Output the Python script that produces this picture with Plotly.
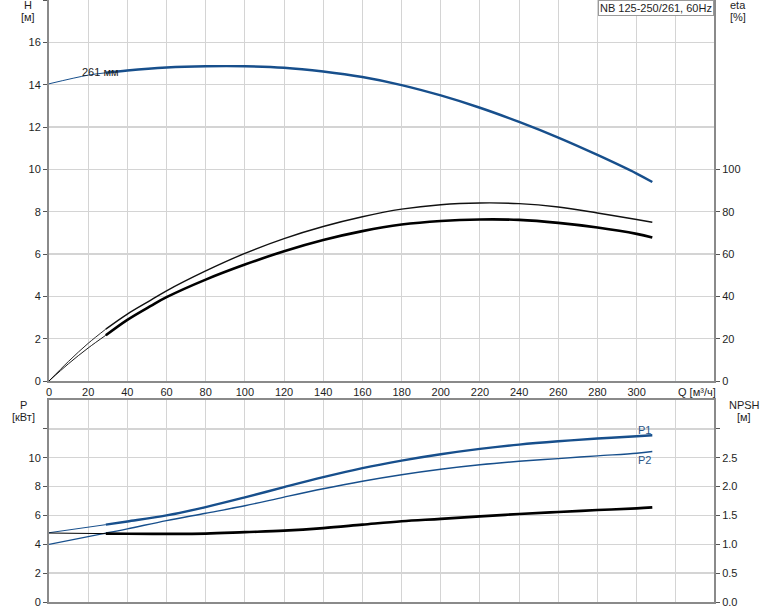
import plotly.graph_objects as go

# ---------------- data ----------------
Q_H = [0, 20, 29, 40, 60, 80, 100, 120, 140, 160, 180, 200, 220, 240, 260, 280, 300, 308]
H_vals = [14.04, 14.45, 14.56, 14.67, 14.81, 14.87, 14.87, 14.80, 14.62, 14.36, 13.98, 13.49, 12.91, 12.24, 11.50, 10.68, 9.80, 9.40]

Q_eta = [0, 10, 20, 29, 40, 52, 60, 80, 100, 120, 140, 160, 180, 200, 220, 240, 260, 280, 300, 308]
eta_pump = [0, 9.3, 17.8, 24.5, 31.6, 38.2, 42.6, 52.0, 60.3, 67.3, 73.0, 77.6, 81.2, 83.3, 84.1, 83.8, 82.2, 79.4, 76.3, 75.0]
eta_total = [0, 8.2, 15.6, 21.6, 28.9, 35.5, 39.6, 47.9, 55.0, 61.3, 66.6, 70.8, 73.9, 75.6, 76.3, 76.1, 74.7, 72.5, 69.5, 67.8]

Q_P = [0, 29, 40, 60, 80, 100, 120, 140, 160, 180, 200, 220, 240, 260, 280, 300, 308]
P1 = [4.80, 5.36, 5.58, 6.00, 6.58, 7.25, 7.96, 8.65, 9.28, 9.80, 10.24, 10.61, 10.91, 11.14, 11.33, 11.49, 11.56]
P2 = [4.00, 4.78, 5.07, 5.64, 6.15, 6.67, 7.27, 7.85, 8.37, 8.82, 9.20, 9.51, 9.75, 9.94, 10.13, 10.31, 10.43]
NPSH = [1.195, 1.185, 1.182, 1.180, 1.185, 1.21, 1.236, 1.28, 1.34, 1.40, 1.44, 1.484, 1.524, 1.559, 1.593, 1.622, 1.64]

Q_ticks = list(range(0, 321, 20))
Q_ticktext = [str(v) for v in range(0, 301, 20)] + [""]
H_ticks = list(range(0, 17, 2))
eta_ticks = list(range(0, 101, 20))
P_ticks = list(range(0, 13, 2))
P_ticktext = [str(v) for v in range(0, 11, 2)] + [""]
NPSH_ticks = [0, 0.5, 1.0, 1.5, 2.0, 2.5, 3.0]
NPSH_ticktext = ["0.0", "0.5", "1.0", "1.5", "2.0", "2.5", ""]

Q_SPLIT = 29  # start of thick (operating) range

# ---------------- layout helpers ----------------
W, HT = 774, 611
L, R, T, B = 49, 60, 0, 9
PW = W - L - R
PH = HT - T - B


def px(x):
    return (x - L) / PW


def py(y):
    return (HT - B - y) / PH


FONT = "Liberation Sans, Arial, sans-serif"
BLUE = "#174f8c"
GRID = "#d4d4d4"
AX = "#8a8a8a"
TXT = "#1e1e1e"


def split(xs, ys):
    lo_x = [x for x in xs if x <= Q_SPLIT]
    lo_y = [y for x, y in zip(xs, ys) if x <= Q_SPLIT]
    hi_x = [x for x in xs if x >= Q_SPLIT]
    hi_y = [y for x, y in zip(xs, ys) if x >= Q_SPLIT]
    return lo_x, lo_y, hi_x, hi_y


fig = go.Figure()


def add_curve(xs, ys, xa, ya, color, w_thin, w_thick):
    lx, ly, hx, hy = split(xs, ys)
    fig.add_trace(go.Scatter(x=lx, y=ly, xaxis=xa, yaxis=ya, mode="lines",
                             line=dict(color=color, width=w_thin, shape="spline"),
                             showlegend=False, hoverinfo="skip"))
    fig.add_trace(go.Scatter(x=hx, y=hy, xaxis=xa, yaxis=ya, mode="lines",
                             line=dict(color=color, width=w_thick, shape="spline"),
                             showlegend=False, hoverinfo="skip"))


# top: H and eta
add_curve(Q_eta, eta_pump, "x", "y2", "#111111", 0.9, 1.4)
add_curve(Q_eta, eta_total, "x", "y2", "#000000", 0.9, 2.6)
add_curve(Q_H, H_vals, "x", "y", BLUE, 1.0, 2.4)

# bottom: P1, P2, NPSH
add_curve(Q_P, NPSH, "x2", "y4", "#000000", 1.0, 2.6)
add_curve(Q_P, P2, "x2", "y3", BLUE, 1.3, 1.4)
add_curve(Q_P, P1, "x2", "y3", BLUE, 1.0, 2.4)

top_dom = [py(381), 1.0]
bot_dom = [0.0, py(400)]
XR = [0, 339.5]

tickfont = dict(family=FONT, size=11, color=TXT)

xcommon = dict(range=XR, tickmode="array", tickvals=Q_ticks, showgrid=True,
               gridcolor=GRID, gridwidth=1, zeroline=False, showline=True,
               linecolor=AX, linewidth=2, ticks="", tickfont=tickfont,
               automargin=False)

fig.update_layout(
    width=W, height=HT,
    margin=dict(l=L, r=R, t=T, b=B, pad=0, autoexpand=False),
    paper_bgcolor="white", plot_bgcolor="white",
    font=dict(family=FONT, size=11, color=TXT),
    showlegend=False,
    hovermode=False,
    xaxis=dict(domain=[0, 1], anchor="y", ticktext=Q_ticktext, **xcommon),
    yaxis=dict(domain=top_dom, anchor="x", range=[0, 18], tickmode="array",
               tickvals=H_ticks + [18], ticktext=[str(v) for v in H_ticks] + [""],
               showgrid=True, gridcolor=GRID, gridwidth=1.5, zeroline=False,
               showline=True, linecolor=AX, linewidth=2, ticks="outside",
               ticklen=4, tickcolor="#555", tickfont=tickfont, automargin=False),
    yaxis2=dict(overlaying="y", side="right", anchor="x", range=[0, 180],
                tickmode="array", tickvals=eta_ticks, showgrid=False,
                zeroline=False, showline=True, linecolor=AX, linewidth=2,
                ticks="outside", ticklen=4, tickcolor="#555", tickfont=tickfont,
                automargin=False),
    xaxis2=dict(domain=[0, 1], anchor="y3", showticklabels=False, mirror=True,
                ticktext=[""] * len(Q_ticks), **xcommon),
    yaxis3=dict(domain=bot_dom, anchor="x2", range=[0, 14], tickmode="array",
                tickvals=P_ticks, ticktext=P_ticktext, showgrid=True,
                gridcolor=GRID, gridwidth=1.5, zeroline=False, showline=True,
                linecolor=AX, linewidth=2, ticks="outside", ticklen=4,
                tickcolor="#555", tickfont=tickfont, automargin=False),
    yaxis4=dict(overlaying="y3", side="right", anchor="x2", range=[0, 3.5],
                tickmode="array", tickvals=NPSH_ticks, ticktext=NPSH_ticktext,
                showgrid=False, zeroline=False, showline=True, linecolor=AX,
                linewidth=2, ticks="outside", ticklen=4, tickcolor="#555",
                tickfont=tickfont, automargin=False),
)


def note(text, x, y, xanchor="center", color=TXT, size=11, **kw):
    fig.add_annotation(text=text, x=px(x), y=py(y), xref="paper", yref="paper",
                       xanchor=xanchor, yanchor="middle", showarrow=False,
                       font=dict(family=FONT, size=size, color=color), **kw)


note("H", 28, 5)
note("[м]", 28, 17)
note("eta", 738, 5)
note("[%]", 738, 17)
note("P", 23, 405)
note("[кВт]", 23, 417)
note("NPSH", 744, 405)
note("[м]", 744, 417)
note("Q [м³/ч]", 676, 392, xanchor="left")

# curve labels (data-based)
fig.add_annotation(text="261 мм", x=26.5, y=14.62, xref="x", yref="y",
                   showarrow=False, font=dict(family=FONT, size=11, color="#222"))
fig.add_annotation(text="P1", x=304, y=11.93, xref="x2", yref="y3",
                   showarrow=False, font=dict(family=FONT, size=11, color="#2a5688"))
fig.add_annotation(text="P2", x=304, y=9.86, xref="x2", yref="y3",
                   showarrow=False, font=dict(family=FONT, size=11, color="#2a5688"))

# title box
fig.add_annotation(text="NB 125-250/261, 60Hz", x=1.0, y=1.0, xref="paper",
                   yref="paper", xanchor="right", yanchor="top", showarrow=False,
                   bordercolor="#9a9a9a", borderwidth=1, borderpad=1,
                   bgcolor="white", font=dict(family=FONT, size=11, color=TXT))

fig.write_html("out.html",
               config={"displayModeBar": False, "staticPlot": True},
               post_script="document.body.style.margin='0';document.body.style.padding='0';")
